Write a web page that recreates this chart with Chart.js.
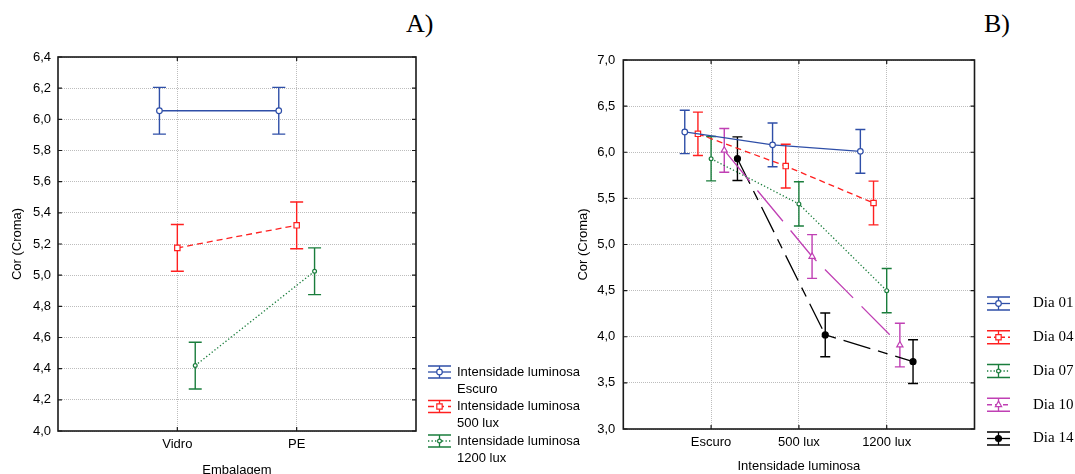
<!DOCTYPE html>
<html>
<head>
<meta charset="utf-8">
<script src="https://cdn.jsdelivr.net/npm/chart.js@4.4.0/dist/chart.umd.min.js"></script>
<style>
  html, body { margin: 0; padding: 0; background: #fff; overflow: hidden; }
  #wrap { position: relative; width: 1075px; height: 474px; overflow: hidden; }
  canvas { position: absolute; left: 0; top: 0; }
  .lbl { position: absolute; font-family: 'Liberation Serif', 'Times New Roman', serif; color: #000; white-space: nowrap; line-height: 1; }
</style>
</head>
<body>
<div id="wrap">
  <div class="lbl" style="left:406px; top:11px; font-size:26px;">A)</div>
  <div class="lbl" style="left:984px; top:11px; font-size:26px;">B)</div>
  <canvas id="chartA" width="1075" height="474"></canvas>
  <canvas id="chartB" width="1075" height="474"></canvas>
</div>
<script>
// ---- dados do grafico A (embalagem) ----
const categoriasA = ['Vidro', 'PE'];
const rotulosA = ['Escuro', '500 lux', '1200 lux'];
const mediaEscuroA = [6.055, 6.055];
const media500A = [5.175, 5.32];
const media1200A = [4.42, 5.025];
const erroEscuroA = [0.15, 0.15];
const erro500A = [0.15, 0.15];
const erro1200A = [0.15, 0.15];

// ---- dados do grafico B (intensidade luminosa x dias) ----
const categoriasB = ['Escuro', '500 lux', '1200 lux'];
const rotulosB = ['Dia 01', 'Dia 04', 'Dia 07', 'Dia 10', 'Dia 14'];
const dia01 = [6.22, 6.08, 6.01];
const dia04 = [6.20, 5.85, 5.45];
const dia07 = [5.93, 5.44, 4.50];
const dia10 = [6.02, 4.87, 3.91];
const dia14 = [5.93, 4.02, 3.73];
const erroDia01 = [0.235, 0.237, 0.237];
const erroDia04 = [0.235, 0.237, 0.237];
const erroDia07 = [0.24, 0.24, 0.24];
const erroDia10 = [0.237, 0.237, 0.237];
const erroDia14 = [0.237, 0.237, 0.237];

Chart.defaults.font.family = "'Liberation Sans', Arial, sans-serif";
Chart.defaults.font.size = 13;
Chart.defaults.color = '#000';

const estilos = {
  azul:    { cor: '#2f4fa8', dash: [], ponto: 'circle', raio: 2.8, cheio: false },
  vermelho:{ cor: '#ff2020', dash: [6, 4], ponto: 'rect', raio: 3.8, cheio: false },
  verde:   { cor: '#1a7d3c', dash: [1.3, 2.2], ponto: 'circle', raio: 1.9, cheio: false },
  magenta: { cor: '#c040b4', dash: [40, 12], ponto: 'triangle', raio: 3.6, cheio: false },
  preto:   { cor: '#000000', dash: [28, 8, 10, 8], ponto: 'circle', raio: 3, cheio: true }
};

function serie(linhas, medias, erros, deslocamento, e) {
  return {
    label: linhas.join(' '),
    linhas: linhas,
    erros: erros,
    data: medias.map((v, i) => ({ x: i + 1 + deslocamento, y: v })),
    showLine: true,
    borderColor: e.cor,
    backgroundColor: e.cor,
    borderWidth: 1.3,
    borderDash: e.dash,
    pointStyle: e.ponto,
    pointRadius: e.raio,
    pointBorderWidth: 1.2,
    pointBorderColor: e.cor,
    pointBackgroundColor: e.cheio ? e.cor : '#ffffff',
    fill: false,
    tension: 0
  };
}

// barras de erro (media +- erro) desenhadas pela escala y
const barrasErro = {
  id: 'barrasErro',
  beforeDatasetsDraw(chart, args, opts) {
    const ctx = chart.ctx;
    const ys = chart.scales.y;
    chart.data.datasets.forEach((ds, di) => {
      const meta = chart.getDatasetMeta(di);
      ctx.save();
      ctx.strokeStyle = ds.borderColor;
      ctx.lineWidth = 1.4;
      meta.data.forEach((pt, i) => {
        const v = ds.data[i].y;
        const e = ds.erros[i];
        const y1 = ys.getPixelForValue(v + e);
        const y2 = ys.getPixelForValue(v - e);
        const w = opts.cap;
        ctx.beginPath();
        ctx.moveTo(pt.x, y1); ctx.lineTo(pt.x, y2);
        ctx.moveTo(pt.x - w, y1); ctx.lineTo(pt.x + w, y1);
        ctx.moveTo(pt.x - w, y2); ctx.lineTo(pt.x + w, y2);
        ctx.stroke();
      });
      ctx.restore();
    });
  }
};

// moldura com marcas internas
const moldura = {
  id: 'moldura',
  beforeDatasetsDraw(chart) {
    const { ctx, chartArea: a, scales: { x, y } } = chart;
    ctx.save();
    ctx.strokeStyle = '#1a1a1a';
    ctx.lineWidth = 1.6;
    ctx.strokeRect(a.left, a.top, a.right - a.left, a.bottom - a.top);
    ctx.lineWidth = 1.2;
    ctx.beginPath();
    y.ticks.forEach(t => {
      const p = y.getPixelForValue(t.value);
      ctx.moveTo(a.left, p); ctx.lineTo(a.left + 4, p);
      ctx.moveTo(a.right, p); ctx.lineTo(a.right - 4, p);
    });
    x.ticks.forEach(t => {
      if (t.value <= x.min || t.value >= x.max) return;
      const p = x.getPixelForValue(t.value);
      ctx.moveTo(p, a.top); ctx.lineTo(p, a.top + 4);
      ctx.moveTo(p, a.bottom); ctx.lineTo(p, a.bottom - 4);
    });
    ctx.stroke();
    ctx.restore();
  }
};

function marcador(ctx, ds, x, y) {
  ctx.fillStyle = ds.pointBackgroundColor;
  ctx.strokeStyle = ds.pointBorderColor;
  ctx.lineWidth = ds.pointBorderWidth;
  if (Chart.helpers && Chart.helpers.drawPoint) {
    Chart.helpers.drawPoint(ctx, { pointStyle: ds.pointStyle, radius: ds.pointRadius, rotation: 0, borderWidth: ds.pointBorderWidth }, x, y);
  } else {
    ctx.beginPath();
    ctx.arc(x, y, ds.pointRadius, 0, Math.PI * 2);
    ctx.fill(); ctx.stroke();
  }
}

// legenda no estilo do Statistica
const legenda = {
  id: 'legenda',
  afterDraw(chart, args, o) {
    const ctx = chart.ctx;
    chart.data.datasets.forEach((ds, i) => {
      const yc = o.y + i * o.passo;
      const x0 = o.x, x1 = o.x + o.largura, xm = (x0 + x1) / 2;
      ctx.save();
      ctx.strokeStyle = ds.borderColor;
      ctx.lineWidth = 1.3;
      ctx.beginPath();
      ctx.moveTo(x0, yc - o.cap); ctx.lineTo(x1, yc - o.cap);
      ctx.moveTo(x0, yc + o.cap); ctx.lineTo(x1, yc + o.cap);
      ctx.moveTo(xm, yc - o.cap); ctx.lineTo(xm, yc + o.cap);
      ctx.stroke();
      ctx.setLineDash(o.dashLegenda ? o.dashLegenda[i] : ds.borderDash);
      ctx.beginPath();
      ctx.moveTo(x0, yc); ctx.lineTo(x1, yc);
      ctx.stroke();
      ctx.setLineDash([]);
      marcador(ctx, ds, xm, yc);
      ctx.fillStyle = '#000';
      ctx.font = o.fonte;
      ctx.textBaseline = 'middle';
      ctx.textAlign = 'left';
      ds.linhas.forEach((t, k) => ctx.fillText(t, o.xTexto, yc + k * o.linha));
      ctx.restore();
    });
  }
};

const virgula = v => Number(v).toFixed(1).replace('.', ',');
const gradeX = n => c => (c.tick && c.tick.value > 0 && c.tick.value < n) ? '#bdbdbd' : 'rgba(0,0,0,0)';

// ---------- grafico A ----------
const offA = [-0.15, 0, 0.15];
new Chart(document.getElementById('chartA'), {
  type: 'scatter',
  data: {
    datasets: [
      serie(['Intensidade luminosa', rotulosA[0]], mediaEscuroA, erroEscuroA, offA[0], estilos.azul),
      serie(['Intensidade luminosa', rotulosA[1]], media500A, erro500A, offA[1], estilos.vermelho),
      serie(['Intensidade luminosa', rotulosA[2]], media1200A, erro1200A, offA[2], estilos.verde)
    ]
  },
  options: {
    responsive: false,
    animation: false,
    layout: { padding: { top: 57, left: 0, right: 659, bottom: 0 } },
    plugins: {
      legend: { display: false },
      tooltip: { enabled: false },
      barrasErro: { cap: 6.5 },
      legenda: { x: 428, largura: 23, y: 372, passo: 34.5, cap: 6, xTexto: 457, linha: 17,
                 fonte: "13px 'Liberation Sans', Arial, sans-serif" }
    },
    scales: {
      x: {
        type: 'linear', min: 0, max: 3,
        ticks: { stepSize: 1, padding: 6, maxRotation: 0, autoSkip: false,
                 callback: v => categoriasA[v - 1] || '' },
        grid: { color: gradeX(3), drawTicks: false, lineWidth: 1 },
        border: { display: false, dash: [1, 1] },
        title: { display: true, text: 'Embalagem', padding: { top: 0, bottom: -4 } },
        afterFit: s => { s.height = 43; }
      },
      y: {
        min: 4, max: 6.4,
        ticks: { stepSize: 0.2, padding: 7, callback: virgula },
        grid: { color: '#bdbdbd', drawTicks: false, lineWidth: 1 },
        border: { display: false, dash: [1, 1] },
        title: { display: true, text: 'Cor (Croma)', padding: { top: 10, bottom: 0 } },
        afterFit: s => { s.width = 58; }
      }
    }
  },
  plugins: [moldura, barrasErro, legenda]
});

// ---------- grafico B ----------
const offB = [-0.3, -0.15, 0, 0.15, 0.3];
new Chart(document.getElementById('chartB'), {
  type: 'scatter',
  data: {
    datasets: [
      serie([rotulosB[0]], dia01, erroDia01, offB[0], estilos.azul),
      serie([rotulosB[1]], dia04, erroDia04, offB[1], estilos.vermelho),
      serie([rotulosB[2]], dia07, erroDia07, offB[2], estilos.verde),
      serie([rotulosB[3]], dia10, erroDia10, offB[3], estilos.magenta),
      serie([rotulosB[4]], dia14, erroDia14, offB[4], estilos.preto)
    ]
  },
  options: {
    responsive: false,
    animation: false,
    layout: { padding: { top: 60, left: 560, right: 100.5, bottom: 0 } },
    plugins: {
      legend: { display: false },
      tooltip: { enabled: false },
      barrasErro: { cap: 5 },
      legenda: { x: 987, largura: 23, y: 303.5, passo: 33.75, cap: 6.5, xTexto: 1033, linha: 17,
                 fonte: "15px 'Liberation Serif', 'Times New Roman', serif",
                 dashLegenda: [[], [4, 3], [1.3, 2], [5, 3], []] }
    },
    scales: {
      x: {
        type: 'linear', min: 0, max: 4,
        ticks: { stepSize: 1, padding: 6, maxRotation: 0, autoSkip: false,
                 callback: v => categoriasB[v - 1] || '' },
        grid: { color: gradeX(4), drawTicks: false, lineWidth: 1 },
        border: { display: false, dash: [1, 1] },
        title: { display: true, text: 'Intensidade luminosa', padding: { top: 0, bottom: 0 } },
        afterFit: s => { s.height = 45; }
      },
      y: {
        min: 3, max: 7,
        ticks: { stepSize: 0.5, padding: 8, callback: virgula },
        grid: { color: '#bdbdbd', drawTicks: false, lineWidth: 1 },
        border: { display: false, dash: [1, 1] },
        title: { display: true, text: 'Cor (Croma)', padding: { top: 16, bottom: 0 } },
        afterFit: s => { s.width = 63.3; }
      }
    }
  },
  plugins: [moldura, barrasErro, legenda]
});
</script>
</body>
</html>
